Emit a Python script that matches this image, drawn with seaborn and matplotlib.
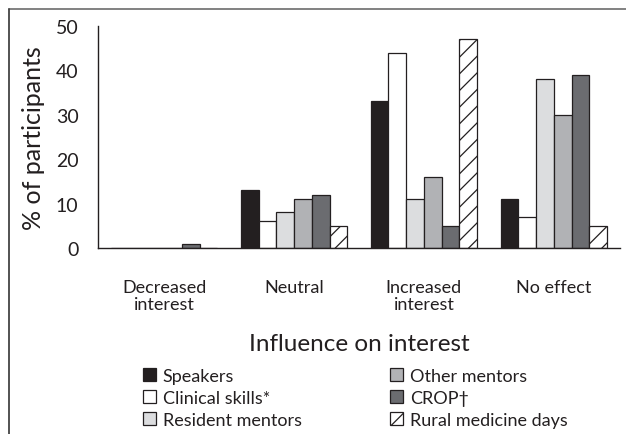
import numpy as np
import pandas as pd
import seaborn as sns
import matplotlib.pyplot as plt
from matplotlib.lines import Line2D

categories = ["Decreased\ninterest", "Neutral", "Increased\ninterest", "No effect"]
sources = ["Speakers", "Clinical skills*", "Resident mentors",
           "Other mentors", "CROP\u2020", "Rural medicine days"]

speakers = [0, 13, 33, 11]
clinical_skills = [0, 6, 44, 7]
resident_mentors = [0, 8, 11, 38]
other_mentors = [0, 11, 16, 30]
crop = [1, 12, 5, 39]
rural_days = [0, 5, 47, 5]

colors = ["#231f20", "#ffffff", "#dcdddf", "#b1b2b5", "#6b6c70", "#ffffff"]

series = [speakers, clinical_skills, resident_mentors, other_mentors, crop, rural_days]
rows = []
for src, vals in zip(sources, series):
    for cat, v in zip(categories, vals):
        rows.append({"category": cat, "source": src, "percent": v})
df = pd.DataFrame(rows)

sns.set_style("white")
plt.rcParams['font.family'] = ['Lato', 'DejaVu Sans']
plt.rcParams['hatch.linewidth'] = 0.9

fig = plt.figure(figsize=(6.26, 4.35), dpi=100)
ax = fig.add_axes([98 / 626, 1 - 249 / 435, 522 / 626, 222 / 435])

sns.barplot(data=df, x="category", y="percent", hue="source", order=categories,
            hue_order=sources, palette=colors, edgecolor="#231f20", linewidth=0.9,
            width=0.82, saturation=1, legend=False, ax=ax)

# diagonal hatch for the rural medicine days bars
for bar in ax.containers[5]:
    bar.set_hatch("//")

ax.set_ylim(0, 50)
ax.set_xlim(-0.51, 3.51)
ax.set_yticks([0, 10, 20, 30, 40, 50])
ax.tick_params(axis="y", labelsize=14, length=0, pad=14, colors="#231f20")
ax.tick_params(axis="x", labelsize=13, length=0, pad=22, colors="#231f20")
for lbl in ax.get_xticklabels():
    lbl.set_linespacing(1.1)

ax.set_ylabel("% of participants", fontsize=18, color="#231f20", labelpad=8)
ax.set_xlabel("Influence on interest", fontsize=17.5, color="#231f20", labelpad=15)

sns.despine(ax=ax)
for side in ["left", "bottom"]:
    ax.spines[side].set_color("#231f20")
    ax.spines[side].set_linewidth(1.0)

fig.legend(handles=list(ax.containers), labels=sources, ncol=2, frameon=False,
           loc="upper left", bbox_to_anchor=(143 / 626, 1 - 369 / 435),
           fontsize=13, handlelength=0.7, handleheight=0.7, handletextpad=0.4,
           columnspacing=4.9, labelspacing=0.32, borderpad=0, borderaxespad=0,
           labelcolor="#231f20")

# page frame lines (top and left)
fig.add_artist(Line2D([9 / 626, 1], [1 - 9.5 / 435, 1 - 9.5 / 435],
                      transform=fig.transFigure, color="#777777", linewidth=1.3))
fig.add_artist(Line2D([9 / 626, 9 / 626], [0, 1 - 9.5 / 435],
                      transform=fig.transFigure, color="#444444", linewidth=1.3))

fig.savefig("out.png", dpi=100)
